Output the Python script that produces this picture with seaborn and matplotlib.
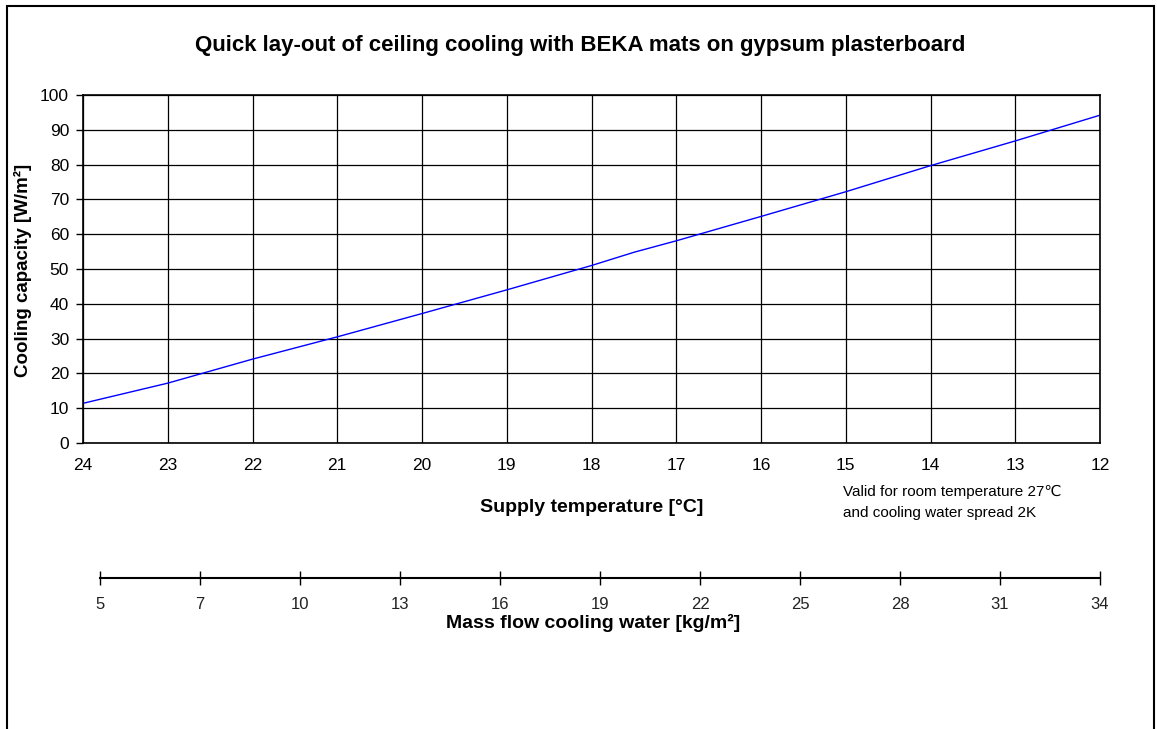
import matplotlib
matplotlib.use('Agg')
import matplotlib.pyplot as plt
import seaborn as sns
import pandas as pd
from matplotlib.patches import Rectangle

# Data
supply_temp = [24, 23, 22, 21, 20, 19, 18, 17.5, 17, 16, 15, 14, 13, 12]
cooling_capacity = [11.4, 17.2, 24.1, 30.5, 37.2, 44.0, 51.0, 54.8, 58.1, 65.1, 72.2, 79.7, 86.8, 94.2]
temp_ticks = list(range(24, 11, -1))
cap_ticks = list(range(0, 101, 10))
mass_flow_labels = ['5', '7', '10', '13', '16', '19', '22', '25', '28', '31', '34']

df = pd.DataFrame({'temp': supply_temp, 'cap': cooling_capacity})

sns.set_style('white')
plt.rcParams['font.family'] = ['Liberation Sans', 'DejaVu Sans']
plt.rcParams['text.color'] = 'black'
plt.rcParams['xtick.color'] = 'black'
plt.rcParams['ytick.color'] = 'black'

W, H = 1157, 729
fig = plt.figure(figsize=(W / 100, H / 100), dpi=100)

def fx(px):
    return px / W

def fy(py):
    return 1 - py / H

# outer frame (bottom edge runs off the picture)
fig.patches.append(Rectangle((fx(7), fy(740)), fx(1154) - fx(7), fy(6) - fy(740),
                             transform=fig.transFigure, fill=False,
                             edgecolor='black', linewidth=1.5))

ax = fig.add_axes([fx(83), fy(443), fx(1100) - fx(83), fy(95) - fy(443)])
sns.lineplot(data=df, x='temp', y='cap', ax=ax, color='#0000ff', linewidth=1, sort=False)

ax.set_xlim(24, 12)
ax.set_ylim(0, 100)
ax.set_xticks(temp_ticks)
ax.set_yticks(cap_ticks)
ax.tick_params(axis='x', length=0, pad=11, labelsize=12.5, labelcolor='black')
ax.tick_params(axis='y', length=5, width=1, direction='out', pad=5, labelsize=12.5,
               left=True, labelcolor='black')
ax.grid(True, color='black', linewidth=0.9)
ax.set_axisbelow(True)
for s in ax.spines.values():
    s.set_color('black')
    s.set_linewidth(1.2)
ax.set_xlabel('')
ax.set_ylabel('')

fig.text(fx(580), fy(45), 'Quick lay-out of ceiling cooling with BEKA mats on gypsum plasterboard',
         ha='center', va='center', fontsize=16, fontweight='bold')
fig.text(fx(23), fy(270), 'Cooling capacity [W/m²]', rotation=90,
         ha='center', va='center', fontsize=13.5, fontweight='bold')
fig.text(fx(592), fy(507), 'Supply temperature [°C]',
         ha='center', va='center', fontsize=14, fontweight='bold')
fig.text(fx(843), fy(492), 'Valid for room temperature 27℃',
         ha='left', va='center', fontsize=11)
fig.text(fx(843), fy(513), 'and cooling water spread 2K',
         ha='left', va='center', fontsize=11)

# second scale: mass flow
ax2 = fig.add_axes([fx(100), fy(578), fx(1100) - fx(100), 0.001])
ax2.set_xlim(0, len(mass_flow_labels) - 1)
ax2.set_ylim(0, 1)
ax2.set_yticks([])
ax2.set_xticks(range(len(mass_flow_labels)))
ax2.set_xticklabels(mass_flow_labels, color='#222222')
ax2.tick_params(axis='x', direction='inout', length=10, width=1, pad=9, labelsize=12, bottom=True)
for side in ['top', 'left', 'right']:
    ax2.spines[side].set_visible(False)
ax2.spines['bottom'].set_color('black')
ax2.spines['bottom'].set_linewidth(1.5)
ax2.patch.set_alpha(0)

fig.text(fx(593), fy(623), 'Mass flow cooling water [kg/m²]',
         ha='center', va='center', fontsize=14, fontweight='bold')

fig.savefig('out.png', dpi=100)
